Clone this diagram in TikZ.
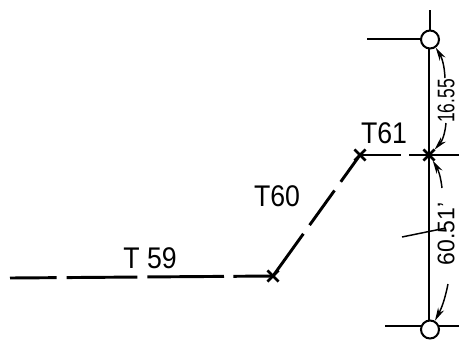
\documentclass[tikz,border=0pt]{standalone}
\usepackage{fontspec}
\setmainfont{Liberation Sans}
\usetikzlibrary{shapes.misc,arrows.meta}
\tikzset{
  pipe/.style={line width=2.2pt},
  thin line/.style={line width=1.1pt},
  joint/.style={circle,draw,line width=1.5pt,fill=white,minimum size=13.5pt,inner sep=0pt},
  bend pt/.style={cross out,draw,line width=1.9pt,minimum size=6.5pt,inner sep=0pt},
  tag/.style={font=\fontsize{20}{20}\selectfont,inner sep=0pt},
  dim/.style={font=\fontsize{15}{15}\selectfont,inner sep=0pt,rotate=90},
  leader/.style={thin line,-{Stealth[length=10pt,width=5pt]}}
}
\begin{document}
\begin{tikzpicture}[x=0.75pt,y=-0.75pt]
  \useasboundingbox (0,0) rectangle (459,339);
  \coordinate (top) at (430,10);
  \coordinate (left1) at (367,39);
  \coordinate (left2) at (385,326);
  \coordinate (right1) at (459,155);
  \coordinate (right2) at (459,326);
  \coordinate (start) at (10,278);
  \coordinate (tick1) at (402,237);
  \coordinate (tick2) at (446,228);
  \coordinate (lead1) at (445,78);
  \coordinate (lead2) at (446,123);
  \coordinate (lead3) at (442,188);
  \coordinate (lead4) at (448,284);
  \draw
    (273,276) node[bend pt] (x59){}
    (360,155) node[bend pt] (x60){}
    (429,155) node[bend pt] (x61){};
  \draw[pipe] (429,39) -- (429,326);
  \draw[pipe] (left2) -- (right2);
  \draw[pipe] (top) -- (430,39);
  \draw[pipe] (left1) -- (430,39);
  \node[joint] (j1) at (430,39.5) {};
  \node[joint] (j2) at (430,329.5) {};
  \begin{scope}[pipe]
    \draw[dash pattern=on 35pt off 7.5pt on 53pt off 7.5pt on 57.5pt off 7pt on 40pt] (start) -- (x59.center);
    \draw[dash pattern=on 39pt off 8pt on 32pt off 8pt on 40pt] (x59.center) -- (x60.center);
    \draw[dash pattern=on 31pt off 6pt on 60pt] (x60.center) -- (right1);
  \end{scope}
  \node[tag,yscale=1.12] (t59) at (150,258) {T 59};
  \node[tag,yscale=1.12] (t60) at (277,196) {T60};
  \node[tag,yscale=1.12] (t61) at (384,133) {T61};
  \node[dim] (d1) at (446,101) {\scalebox{0.87}[1.2]{16.55}};
  \node[dim] (d2) at (446,234) {\scalebox{1.15}[1.2]{60.51'}};
  \draw[thin line] (tick1) -- (tick2);
  \draw[leader] (lead1) to[bend right=14] (j1);
  \draw[leader] (lead2) to[bend left=18] (x61);
  \draw[leader] (lead3) to[bend right=12] (x61);
  \draw[leader] (lead4) to[bend left=8] (j2);
\end{tikzpicture}
\end{document}
